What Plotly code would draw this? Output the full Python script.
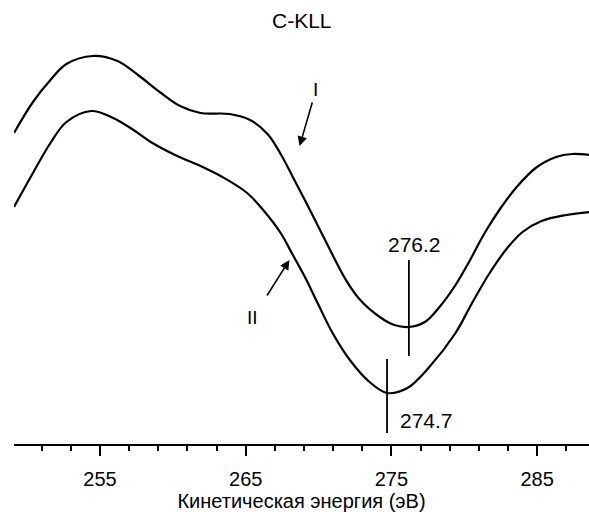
import plotly.graph_objects as go

# Curve I (upper) - kinetic energy (eV) and intensity (arb. units)
energy_I = [249.1, 250.4, 251.6, 252.7, 254.5, 256.2, 257.7, 259.1, 260.5, 261.9,
            263.9, 265.3, 266.5, 267.4, 268.2, 269.2, 270.1, 271.0, 271.8, 272.8,
            274.2, 275.2, 276.2, 277.3, 278.3, 279.4, 280.4, 281.4, 282.5, 283.6,
            284.9, 286.3, 287.4, 288.6]
intensity_I = [311, 342, 364, 380, 388, 383, 368, 352, 338, 331,
               330, 324, 310, 290, 268, 240, 214, 188, 166, 145,
               127, 119, 117, 122, 137, 159, 184, 211, 236, 257,
               276, 287, 290, 289]

# Curve II (lower)
energy_II = [249.1, 250.4, 251.6, 252.7, 254.4, 255.9, 257.3, 258.6, 260.3, 261.9,
             263.4, 265.1, 266.2, 267.4, 268.2, 269.1, 269.9, 271.0, 272.2, 273.5,
             274.7, 276.1, 277.6, 279.4, 280.5, 281.7, 282.9, 284.0, 285.3, 287.0,
             288.6]
intensity_II = [237, 271, 301, 322, 333, 326, 314, 301, 288, 278,
                267, 251, 234, 211, 190, 166, 142, 110, 83, 62,
                51, 56, 77, 111, 140, 170, 195, 212, 223, 229,
                232]

peak_energies = [276.2, 274.7]
peak_labels = ["276.2", "274.7"]
marker_ranges = [(88, 184), (11, 85)]
label_pos = [(276.6, 200), (277.4, 24)]

tick_vals = [255, 265, 275, 285]
x_range = [249.1, 288.56]
y_range = [0, 414]

FONT = "Liberation Sans, Arial, Helvetica, sans-serif"

fig = go.Figure()
for e, i in [(energy_I, intensity_I), (energy_II, intensity_II)]:
    fig.add_trace(go.Scatter(x=e, y=i, mode="lines",
                             line=dict(color="black", width=2.2, shape="spline", smoothing=1.0),
                             showlegend=False, hoverinfo="skip"))

for pe, (y0, y1) in zip(peak_energies, marker_ranges):
    fig.add_trace(go.Scatter(x=[pe, pe], y=[y0, y1], mode="lines",
                             line=dict(color="black", width=1.8),
                             showlegend=False, hoverinfo="skip"))

annotations = []
for txt, (lx, ly) in zip(peak_labels, label_pos):
    annotations.append(dict(x=lx, y=ly, xref="x", yref="y", text=txt, showarrow=False,
                            font=dict(family=FONT, size=21, color="black")))

# curve labels with arrows
annotations.append(dict(x=268.7, y=298, ax=269.6, ay=343, xref="x", yref="y",
                        axref="x", ayref="y", text="", showarrow=True,
                        arrowhead=2, arrowsize=1.2, arrowwidth=1.6, arrowcolor="black"))
annotations.append(dict(x=269.8, y=355, xref="x", yref="y", text="I", showarrow=False,
                        font=dict(family=FONT, size=19, color="black")))
annotations.append(dict(x=268.0, y=184, ax=266.4, ay=147, xref="x", yref="y",
                        axref="x", ayref="y", text="", showarrow=True,
                        arrowhead=2, arrowsize=1.2, arrowwidth=1.6, arrowcolor="black"))
annotations.append(dict(x=265.5, y=127, xref="x", yref="y", text="II", showarrow=False,
                        font=dict(family=FONT, size=19, color="black")))
annotations.append(dict(x=0.5, y=1 + (30 - 21) / 414, xref="paper", yref="paper",
                        yanchor="middle", text="C-KLL", showarrow=False,
                        font=dict(family=FONT, size=21, color="black")))

fig.update_layout(
    width=589, height=512,
    margin=dict(l=14, r=0, t=30, b=68),
    paper_bgcolor="white", plot_bgcolor="white",
    annotations=annotations,
    xaxis=dict(range=x_range, tickvals=tick_vals, ticks="outside", ticklen=10,
               tickwidth=1.5, tickcolor="black", showline=True, linecolor="black",
               linewidth=2, showgrid=False, zeroline=False,
               ticklabelstandoff=6,
               tickfont=dict(family=FONT, size=20, color="black"),
               minor=dict(dtick=2, tick0=251, ticks="outside", ticklen=5,
                          tickwidth=1.5, tickcolor="black", showgrid=False),
               title=dict(text="Кинетическая энергия (эВ)", standoff=0,
                          font=dict(family=FONT, size=20, color="black"))),
    yaxis=dict(range=y_range, visible=False, showgrid=False),
)

fig.write_html("out.html")
